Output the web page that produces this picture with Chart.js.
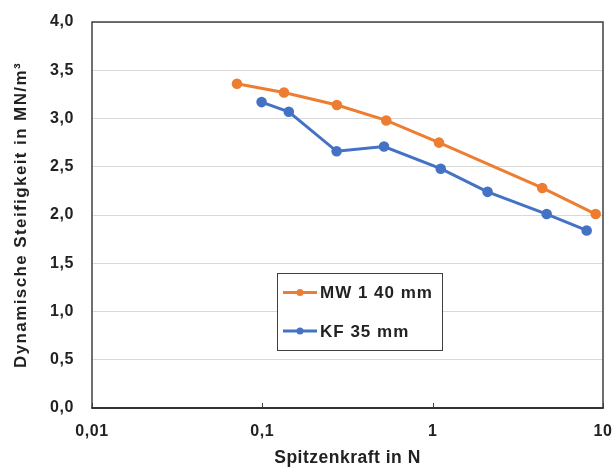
<!DOCTYPE html>
<html>
<head>
<meta charset="utf-8">
<script src="https://cdn.jsdelivr.net/npm/chart.js@4/dist/chart.umd.min.js"></script>
<style>
  html, body { margin: 0; padding: 0; background: #fff; }
  #wrap { width: 616px; height: 469px; position: relative; }
</style>
</head>
<body>
<div id="wrap"><canvas id="c" width="616" height="469"></canvas></div>
<script>
// ---- data ----
const seriesNames = ["MW 1 40 mm", "KF 35 mm"];
const mwForce = [0.071, 0.134, 0.274, 0.534, 1.09, 4.4, 9.06];
const mwStiff = [3.36, 3.27, 3.14, 2.98, 2.75, 2.28, 2.01];
const kfForce = [0.099, 0.143, 0.273, 0.518, 1.115, 2.1, 4.67, 8.02];
const kfStiff = [3.17, 3.07, 2.66, 2.71, 2.48, 2.24, 2.01, 1.84];
const xTickValues = [0.01, 0.1, 1, 10];
const yTickStep = 0.5;
const xTitle = "Spitzenkraft in N";
const yTitle = "Dynamische Steifigkeit in MN/m³";

const ORANGE = "#ED7D31";
const BLUE = "#4472C4";
const TEXT = "#222222";
const FONT = "'Liberation Sans', Arial, sans-serif";

const toPts = (xs, ys) => xs.map((x, i) => ({ x: x, y: ys[i] }));
const fmt = v => String(v).replace('.', ',');

// scales that draw their text with a little letter spacing (like the reference)
function withSpacing(Base, id) {
  class Spaced extends Base {
    drawLabels(area) {
      const c = this.ctx; c.save();
      c.letterSpacing = (this.options.ticks.letterSpacing || 0) + 'px';
      super.drawLabels(area); c.restore();
    }
    drawTitle() {
      const c = this.ctx; c.save();
      c.letterSpacing = (this.options.title.letterSpacing || 0) + 'px';
      super.drawTitle(); c.restore();
    }
  }
  Spaced.id = id;
  Spaced.defaults = Base.defaults;
  return Spaced;
}
Chart.register(withSpacing(Chart.LogarithmicScale, 'spacedLog'), withSpacing(Chart.LinearScale, 'spacedLinear'));

const framePlugin = {
  id: 'frame',
  afterDraw(chart) {
    const { ctx, chartArea: a, scales } = chart;
    ctx.save();
    // inward decade ticks on x axis
    ctx.strokeStyle = "#404040";
    ctx.lineWidth = 1;
    xTickValues.forEach(v => {
      const px = Math.round(scales.x.getPixelForValue(v)) + 0.5;
      ctx.beginPath();
      ctx.moveTo(px, a.bottom);
      ctx.lineTo(px, a.bottom - 5);
      ctx.stroke();
    });
    // frame box
    ctx.lineWidth = 1.5;
    ctx.strokeStyle = "#404040";
    ctx.beginPath();
    ctx.moveTo(a.left, a.bottom);
    ctx.lineTo(a.left, a.top);
    ctx.lineTo(a.right, a.top);
    ctx.lineTo(a.right, a.bottom);
    ctx.stroke();
    ctx.lineWidth = 2;
    ctx.strokeStyle = "#333333";
    ctx.beginPath();
    ctx.moveTo(a.left - 0.75, a.bottom);
    ctx.lineTo(a.right + 0.75, a.bottom);
    ctx.stroke();

    // legend box
    const bx = 277, by = 273, bw = 165, bh = 77;
    ctx.fillStyle = "#ffffff";
    ctx.fillRect(bx, by, bw, bh);
    ctx.lineWidth = 1;
    ctx.strokeStyle = "#404040";
    ctx.strokeRect(bx + 0.5, by + 0.5, bw, bh);
    ctx.font = "bold 17px " + FONT;
    ctx.letterSpacing = "1px";
    ctx.textBaseline = "middle";
    ctx.textAlign = "left";
    chart.data.datasets.forEach((ds, i) => {
      const yy = by + 19.5 + i * 38.5;
      ctx.strokeStyle = ds.borderColor;
      ctx.lineWidth = 3;
      ctx.beginPath();
      ctx.moveTo(bx + 6, yy);
      ctx.lineTo(bx + 40, yy);
      ctx.stroke();
      ctx.fillStyle = ds.borderColor;
      ctx.beginPath();
      ctx.arc(bx + 23, yy, 3.5, 0, Math.PI * 2);
      ctx.fill();
      ctx.fillStyle = TEXT;
      ctx.fillText(ds.label, bx + 43, yy + 1);
    });
    ctx.restore();
  }
};

new Chart(document.getElementById('c'), {
  type: 'line',
  data: {
    datasets: [
      { label: seriesNames[0], data: toPts(mwForce, mwStiff), borderColor: ORANGE, backgroundColor: ORANGE,
        borderWidth: 3, pointRadius: 3.8, pointHoverRadius: 3.8, tension: 0, fill: false },
      { label: seriesNames[1], data: toPts(kfForce, kfStiff), borderColor: BLUE, backgroundColor: BLUE,
        borderWidth: 3, pointRadius: 3.8, pointHoverRadius: 3.8, tension: 0, fill: false }
    ]
  },
  options: {
    responsive: false,
    animation: false,
    devicePixelRatio: 1,
    layout: { padding: { top: 22, right: 13, left: 0, bottom: 0 } },
    plugins: { legend: { display: false }, tooltip: { enabled: false } },
    scales: {
      x: {
        type: 'spacedLog',
        min: xTickValues[0],
        max: xTickValues[xTickValues.length - 1],
        afterBuildTicks: s => { s.ticks = xTickValues.map(v => ({ value: v, major: true })); },
        afterFit: s => { s.height = 61; s.paddingLeft = 0; s.paddingRight = 0; },
        grid: { display: false, drawTicks: false },
        border: { display: false },
        ticks: { color: TEXT, font: { family: FONT, size: 16, weight: 'bold' }, padding: 14, letterSpacing: 0.6,
                 maxRotation: 0, autoSkip: false, callback: v => fmt(v) },
        title: { display: true, text: xTitle, color: TEXT, font: { family: FONT, size: 17.5, weight: 'bold' },
                 letterSpacing: 0.5, padding: { top: 2, bottom: 0 } }
      },
      y: {
        type: 'spacedLinear',
        min: 0, max: 4,
        afterFit: s => { s.width = 92; s.paddingTop = 0; s.paddingBottom = 0; },
        grid: { color: "#d9d9d9", lineWidth: 1, drawTicks: false },
        border: { display: false },
        ticks: { stepSize: yTickStep, color: TEXT, font: { family: FONT, size: 16, weight: 'bold' }, padding: 18,
                 letterSpacing: 0.6, callback: v => v.toFixed(1).replace('.', ',') },
        title: { display: true, text: yTitle, color: TEXT, font: { family: FONT, size: 17, weight: 'bold' },
                 letterSpacing: 1.4, padding: { top: 11, bottom: 0 } }
      }
    }
  },
  plugins: [framePlugin]
});
</script>
</body>
</html>
